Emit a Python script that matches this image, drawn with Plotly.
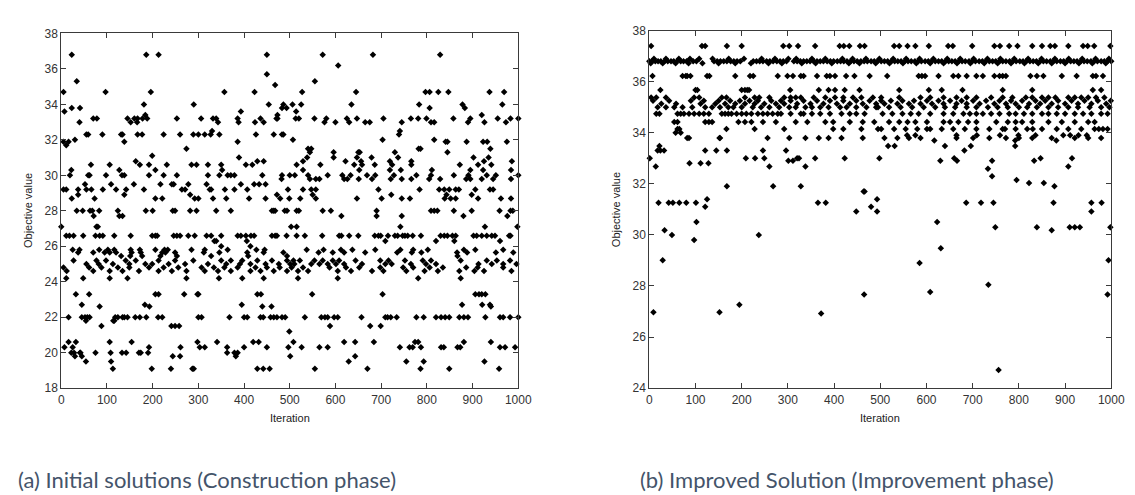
import plotly.graph_objects as go

W, H = 1135, 495

# ---------------- Panel (a): Initial solutions ----------------
a_368 = [23, 186, 213, 450, 572, 682, 829]
a_362 = [606]
a_357 = [450]
a_353 = [34, 555]
a_351 = [468]
a_347 = [5, 97, 196, 357, 423, 527, 645, 797, 806, 825, 847, 937, 969]
a_340 = [181, 290, 454, 486, 506, 525, 635, 783, 878, 965]
a_338 = [23, 41, 483, 493, 806, 883]
a_336 = [7, 393, 514]
a_334 = [184, 473, 920]
a_332 = [70, 78, 145, 160, 167, 178, 188, 253, 306, 332, 339, 386, 436, 471, 473, 513, 520, 554,
         580, 625, 647, 705, 765, 781, 799, 858, 895, 955, 983, 1000]
a_330 = [40, 152, 166, 343, 388, 424, 443, 576, 600, 630, 665, 675, 745, 809, 816, 890, 926, 973]
a_325 = [330, 741]
a_323 = [55, 59, 90, 131, 134, 167, 177, 224, 260, 289, 300, 314, 327, 346, 426, 465, 483, 486, 739]
a_320 = [30, 507, 703, 816]
a_319 = [5, 16, 138, 386, 841, 845, 887, 923, 932, 975]
a_317 = [11]
a_315 = [274, 540, 547, 782, 786, 939]
a_313 = [544, 596, 650, 653, 730, 845]
a_311 = [199]
a_310 = [389, 538, 596, 647, 679, 737, 902, 935]
a_308 = [163, 429, 443, 529, 622, 656, 719, 766, 925, 986]
a_306 = [65, 106, 172, 192, 231, 285, 296, 321, 350, 404, 418, 515, 567, 641, 658, 686, 724, 766,
         872, 912, 941]
a_303 = [22, 127, 206, 352, 529, 652, 719, 743, 811, 895, 923, 984]
a_300 = [19, 59, 62, 98, 133, 138, 192, 224, 253, 321, 346, 364, 371, 379, 440, 483, 500, 511, 540,
         583, 615, 633, 669, 687, 728, 777, 809, 859, 891, 931, 951, 1000]
a_298 = [482, 544, 557, 565, 619, 626, 651, 680, 721, 745, 766, 805, 829, 886, 895, 920, 945, 984]
a_295 = [52, 109, 159, 217, 242, 246, 278, 318, 393, 422, 433, 447]
a_292 = [5, 11, 37, 55, 66, 91, 120, 142, 181, 264, 271, 325, 328, 358, 379, 407, 496, 529, 547,
         557, 694, 784, 827, 838, 849, 863, 870, 906, 938, 945]
a_289 = [37, 138, 282, 472, 550, 722, 843, 898]
a_287 = [23, 73, 206, 221, 292, 300, 332, 361, 411, 447, 479, 499, 523, 557, 647, 701, 745, 763,
         839, 852, 863, 912, 962, 984]
a_280 = [34, 47, 63, 68, 83, 124, 185, 200, 244, 249, 282, 296, 339, 371, 461, 465, 468, 489, 494,
         515, 520, 572, 590, 690, 809, 816, 823, 859, 898, 959, 983, 988]
a_277 = [71, 127, 134, 613, 690, 745, 880, 976]
a_271 = [0, 77, 80, 503, 515, 742, 927, 998]
a_266 = [11, 18, 27, 48, 75, 84, 91, 116, 152, 199, 206, 210, 246, 253, 260, 278, 292, 318, 328,
         350, 386, 393, 404, 415, 422, 461, 468, 472, 493, 515, 533, 571, 608, 613, 630, 650, 686,
         694, 699, 715, 730, 736, 747, 752, 758, 769, 787, 830, 838, 845, 856, 863, 902, 909, 920,
         931, 942, 949, 980, 983]
a_263 = [335, 339, 406, 709, 820, 860, 960]
a_260 = [350, 414]
a_258 = [25, 40, 83, 102, 116, 152, 172, 206, 226, 233, 285, 314, 364, 427, 445, 537, 574, 612,
         637, 687, 742, 770, 802, 881, 906, 967]
a_256 = [37, 70, 95, 106, 120, 154, 174, 221, 228, 249, 312, 346, 407, 443, 486, 563, 594, 619,
         665, 735, 767, 788, 866, 888, 951, 989]
a_254 = [131, 151, 177, 217, 253, 328, 409, 494, 867]
a_252 = [27, 77, 98, 141, 163, 213, 249, 289, 350, 371, 396, 429, 461, 494, 508, 522, 554, 572,
         594, 608, 644, 698, 716, 752, 791, 809, 874, 931, 953, 982]
a_250 = [55, 82, 113, 149, 184, 199, 235, 271, 321, 361, 391, 414, 447, 476, 501, 510, 547, 565,
         583, 601, 619, 658, 709, 723, 765, 798, 820, 913, 942, 967, 996]
a_248 = [5, 61, 88, 124, 149, 192, 224, 256, 307, 334, 357, 386, 425, 450, 478, 504, 529, 587,
         623, 652, 698, 748, 770, 806, 835, 886, 911, 967]
a_245 = [12, 70, 106, 134, 170, 213, 242, 274, 314, 343, 371, 414, 436, 465, 494, 518, 540, 605,
         634, 680, 705, 755, 795, 824, 871, 904, 925, 985]
a_242 = [11, 48, 106, 145, 274, 345, 396, 443, 518, 605, 781, 874]
a_233 = [32, 61, 206, 213, 269, 298, 300, 429, 437, 549, 703, 906, 914, 920, 928]
a_227 = [45, 183, 395, 877, 921, 938]
a_226 = [84, 193, 440, 460, 940]
a_220 = [16, 45, 52, 57, 62, 118, 124, 134, 138, 145, 162, 172, 186, 212, 221, 300, 307, 368, 400,
         407, 436, 442, 458, 465, 472, 483, 490, 533, 569, 577, 583, 597, 605, 657, 709, 714, 721,
         734, 777, 793, 820, 831, 840, 849, 871, 881, 890, 928, 960, 967, 982, 1000]
a_218 = [54, 114, 116]
a_215 = [88, 241, 249, 258, 588, 676, 699]
a_212 = [499]
a_206 = [16, 32, 106, 154, 298, 341, 420, 432, 508, 619, 643, 684, 774, 781, 881, 940]
a_203 = [7, 25, 192, 261, 303, 314, 363, 400, 450, 497, 526, 565, 583, 741, 762, 769, 787, 831,
         837, 867, 873, 960, 971, 993]
a_200 = [22, 28, 41, 42, 75, 108, 133, 142, 170, 174, 190, 363, 379, 386]
a_198 = [30, 45, 244, 260, 382, 501, 643]
a_195 = [54, 109, 629, 755, 793, 926]
a_191 = [113, 198, 240, 287, 290, 429, 442, 456, 555, 670, 786, 849, 958]

A_BANDS = [
    (36.8, a_368), (36.2, a_362), (35.7, a_357), (35.3, a_353), (35.1, a_351), (34.7, a_347),
    (34.0, a_340), (33.8, a_338), (33.6, a_336), (33.4, a_334), (33.2, a_332), (33.0, a_330),
    (32.5, a_325), (32.3, a_323), (32.0, a_320), (31.9, a_319), (31.7, a_317), (31.5, a_315),
    (31.3, a_313), (31.1, a_311), (31.0, a_310), (30.8, a_308), (30.6, a_306), (30.3, a_303),
    (30.0, a_300), (29.8, a_298), (29.5, a_295), (29.2, a_292), (28.9, a_289), (28.7, a_287),
    (28.0, a_280), (27.7, a_277), (27.1, a_271), (26.6, a_266), (26.3, a_263), (26.0, a_260),
    (25.8, a_258), (25.65, a_256), (25.45, a_254), (25.2, a_252), (25.0, a_250), (24.8, a_248),
    (24.6, a_245), (24.2, a_242), (23.3, a_233), (22.7, a_227), (22.6, a_226), (22.0, a_220),
    (21.8, a_218), (21.5, a_215), (21.2, a_212), (20.6, a_206), (20.3, a_203), (20.0, a_200),
    (19.8, a_198), (19.5, a_195), (19.1, a_191),
]

# ---------------- Panel (b): Improved solutions ----------------
b_374 = [4, 114, 121, 168, 200, 290, 303, 322, 359, 412, 421, 433, 456, 466, 530, 541, 559, 576,
         605, 647, 657, 699, 747, 759, 779, 797, 829, 850, 868, 878, 907, 939, 949, 963, 998]
b_369 = [10, 36, 64, 88, 108, 137, 172, 205, 243, 272, 301, 318, 352, 381, 418, 440, 469, 498, 528,
         556, 585, 615, 645, 673, 702, 732, 760, 790, 820, 849, 878, 908, 937, 966, 995]
b_368 = [0, 6, 13, 19, 25, 33, 40, 47, 53, 60, 68, 74, 81, 95, 102, 140, 147, 154, 161, 168, 176,
         183, 190, 197, 225, 232, 239, 246, 254, 261, 268, 276, 283, 290, 297, 313, 320, 327, 334,
         341, 348, 356, 363, 370, 377, 385, 392, 399, 407, 414, 421, 428, 436, 443, 450, 458, 465,
         472, 480, 487, 494, 502, 509, 516, 524, 531, 538, 545, 553, 560, 567, 575, 582, 589, 597,
         604, 611, 619, 626, 633, 641, 648, 655, 662, 670, 677, 684, 692, 699, 706, 714, 721, 728,
         736, 743, 750, 758, 765, 772, 780, 787, 794, 802, 809, 816, 824, 831, 838, 846, 853, 860,
         868, 875, 882, 890, 897, 904, 912, 919, 926, 934, 941, 948, 956, 963, 970, 978, 985, 992, 1000]
b_367 = [3, 29, 57, 85, 115, 150, 186, 220, 258, 287, 330, 360, 395, 432, 455, 490, 520, 549, 578,
         608, 637, 666, 695, 725, 754, 783, 812, 842, 871, 900, 930, 959, 988]
b_362 = [7, 72, 79, 82, 89, 125, 130, 186, 218, 225, 278, 299, 311, 328, 334, 363, 384, 391, 402,
         426, 444, 477, 515, 583, 590, 597, 626, 658, 669, 687, 708, 722, 747, 758, 765, 772, 825,
         839, 853, 893, 925, 960, 967, 982]
b_356 = [24, 100, 104, 200, 207, 212, 216, 305, 367, 388, 402, 423, 455, 541, 605, 633, 678, 765,
         829, 960, 978]
b_354 = [4, 15, 36, 97, 108, 157, 167, 207, 228, 238, 260, 292, 306, 317, 328, 356, 381, 402, 420,
         441, 459, 484, 502, 541, 587, 608, 637, 665, 687, 708, 740, 765, 786, 815, 829, 850, 864,
         879, 907, 921, 935, 950, 967, 985]
b_353 = [8, 43, 90, 118, 150, 175, 196, 217, 235, 264, 285, 306, 334, 363, 391, 420, 448, 477, 502,
         523, 548, 573, 601, 626, 651, 676, 701, 729, 758, 783, 807, 836, 857, 885, 914, 942, 971, 999]
b_351 = [26, 58, 111, 143, 164, 186, 207, 228, 249, 274, 292, 320, 349, 377, 406, 434, 462, 491,
         509, 537, 562, 587, 612, 637, 665, 687, 715, 747, 772, 793, 822, 846, 871, 900, 928, 957, 989]
b_350 = [18, 36, 54, 72, 93, 121, 136, 153, 171, 182, 200, 224, 242, 260, 281, 303, 317, 338, 352,
         370, 388, 413, 427, 448, 470, 491, 495, 519, 544, 569, 594, 619, 640, 662, 687, 708, 733,
         754, 776, 800, 818, 839, 864, 885, 907, 928, 953, 978, 996]
b_347 = [15, 22, 61, 68, 75, 86, 97, 108, 118, 129, 157, 164, 171, 178, 189, 200, 210, 221, 235,
         246, 256, 267, 278, 285, 306, 328, 334, 352, 370, 391, 416, 434, 448, 466, 505, 526, 548,
         566, 583, 608, 637, 658, 680, 694, 708, 722, 740, 758, 779, 793, 811, 829, 850, 864, 882,
         900, 921, 939, 957, 978, 992]
b_344 = [54, 61, 121, 129, 136, 193, 207, 221, 246, 274, 317, 342, 381, 398, 434, 462, 487, 519,
         541, 559, 576, 601, 637, 651, 669, 690, 708, 751, 776, 793, 807, 829, 864, 893, 921, 950, 964]
b_341 = [61, 65, 167, 228, 292, 398, 420, 459, 495, 502, 530, 555, 580, 601, 608, 633, 658, 683,
         708, 736, 765, 770, 793, 818, 830, 850, 882, 907, 935, 964, 973, 982, 992]
b_340 = [57, 68]
b_339 = [558, 576, 665, 709, 759, 799, 836, 896, 911, 929, 947]
b_338 = [82, 86, 152, 153, 256, 303, 338, 367, 388, 416, 462, 509, 537, 562, 587, 665, 701, 736,
         772, 800, 829, 871, 921, 950, 978]
b_337 = [617, 792, 881]
b_335 = [22, 517, 531, 640, 696, 792]
b_333 = [18, 24, 32, 121, 145, 168, 246, 296, 682]
b_330 = [1, 209, 229, 249, 320, 324, 359, 423, 498, 660, 847, 915]
b_329 = [301, 311, 630, 666, 742, 833]
b_328 = [87, 111, 128]
b_327 = [14, 260, 338, 907]
b_326 = [733]
b_323 = [742]
b_321 = [795]
b_320 = [822, 854]
b_319 = [168, 268, 328, 877]
b_317 = [464, 466]
b_314 = [125, 493]
b_312 = [20, 42, 51, 65, 80, 101, 365, 382, 686, 718, 745, 875, 957, 979]
b_311 = [121, 480]
b_309 = [448, 493, 957]
b_305 = [102, 623]
b_303 = [749, 839, 910, 921, 932, 998]
b_302 = [33, 871]
b_300 = [49, 237]
b_298 = [97]
b_295 = [631]
b_290 = [29, 994]
b_289 = [585]
b_280 = [734]
b_277 = [608]
b_276 = [465, 992]
b_272 = [195]
b_270 = [9, 152]
b_269 = [372]
b_247 = [756]

B_BANDS = [
    (37.4, b_374), (36.9, b_369), (36.8, b_368), (36.72, b_367), (36.22, b_362), (35.67, b_356),
    (35.38, b_354), (35.25, b_353), (35.13, b_351), (35.0, b_350), (34.74, b_347), (34.42, b_344),
    (34.15, b_341), (34.0, b_340), (33.9, b_339), (33.79, b_338), (33.7, b_337), (33.48, b_335),
    (33.3, b_333), (33.0, b_330), (32.9, b_329), (32.8, b_328), (32.68, b_327), (32.59, b_326),
    (32.3, b_323), (32.15, b_321), (32.03, b_320), (31.9, b_319), (31.7, b_317), (31.4, b_314),
    (31.26, b_312), (31.1, b_311), (30.92, b_309), (30.5, b_305), (30.3, b_303), (30.18, b_302),
    (30.0, b_300), (29.8, b_298), (29.48, b_295), (29.01, b_290), (28.9, b_289), (28.05, b_280),
    (27.76, b_277), (27.67, b_276), (27.26, b_272), (26.97, b_270), (26.92, b_269), (24.71, b_247),
]

X_TICKS = list(range(0, 1001, 100))
YA_TICKS = list(range(18, 39, 2))
YB_TICKS = list(range(24, 39, 2))


def flatten(bands):
    xs, ys = [], []
    for val, its in bands:
        for it in its:
            xs.append(it)
            ys.append(val)
    return xs, ys


xa, ya = flatten(A_BANDS)
xb, yb = flatten(B_BANDS)

marker = dict(symbol="diamond", size=5, color="black", line=dict(width=0))

fig = go.Figure()
fig.add_trace(go.Scatter(x=xa, y=ya, mode="markers", marker=marker, xaxis="x", yaxis="y",
                         cliponaxis=False, showlegend=False))
fig.add_trace(go.Scatter(x=xb, y=yb, mode="markers", marker=marker, xaxis="x2", yaxis="y2",
                         cliponaxis=False, showlegend=False))

tickfont = dict(family="Liberation Sans, Arial", size=12, color="#333333")
axis_common = dict(showgrid=False, zeroline=False, showline=True, mirror="ticks",
                   linecolor="#3a3a3a", linewidth=1, ticks="inside", ticklen=5,
                   tickcolor="#3a3a3a", tickfont=tickfont)


def px_x(p):
    return p / W


def px_y(p):
    return (H - p) / H


fig.update_layout(
    width=W, height=H,
    margin=dict(l=0, r=0, t=0, b=0),
    paper_bgcolor="white", plot_bgcolor="white",
    xaxis=dict(domain=[px_x(51), px_x(515)], range=[0, 1000], tickvals=X_TICKS,
               anchor="y", **axis_common),
    yaxis=dict(domain=[px_y(384), px_y(19)], range=[18, 38], tickvals=YA_TICKS,
               anchor="x", **axis_common),
    xaxis2=dict(domain=[px_x(648), px_x(1117)], range=[0, 1000], tickvals=X_TICKS,
                anchor="y2", **axis_common),
    yaxis2=dict(domain=[px_y(384), px_y(16)], range=[24, 38], tickvals=YB_TICKS,
                anchor="x2", **axis_common),
)

label_font = dict(family="Liberation Sans, Arial", size=11, color="#222222")
cap_font = dict(family="Lato, Open Sans, sans-serif", size=22, color="#44546A")

annotations = [
    dict(text="Objective value", x=px_x(18), y=px_y(201), textangle=-90, font=label_font),
    dict(text="Iteration", x=px_x(283), y=px_y(415), font=label_font),
    dict(text="Objective value", x=px_x(615), y=px_y(200), textangle=-90, font=label_font),
    dict(text="Iteration", x=px_x(882), y=px_y(415), font=label_font),
    dict(text="(a) Initial solutions (Construction phase)", x=px_x(5), y=px_y(478),
         xanchor="left", font=cap_font),
    dict(text="(b) Improved Solution (Improvement phase)", x=px_x(637), y=px_y(478),
         xanchor="left", font=cap_font),
]
for a in annotations:
    a.update(xref="paper", yref="paper", showarrow=False)
    a.setdefault("xanchor", "center")
    a["yanchor"] = "middle"
fig.update_layout(annotations=annotations)

fig.write_html("out.html")
